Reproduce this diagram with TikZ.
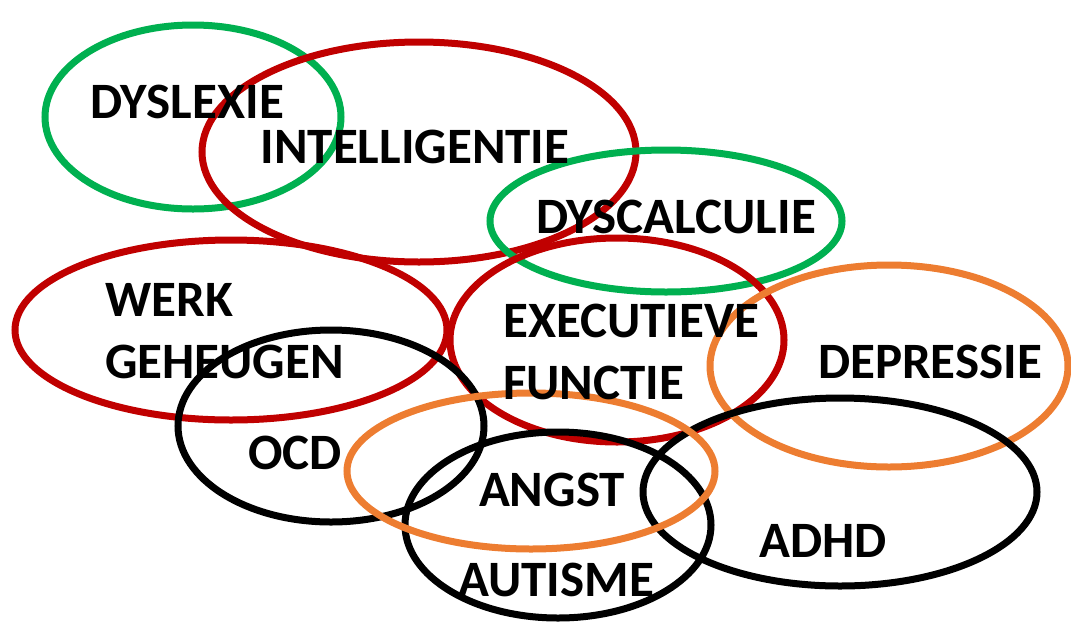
\documentclass[tikz,border=0pt]{standalone}
\usepackage{fontspec}
\setmainfont{Carlito}
\definecolor{ringgreen}{RGB}{0,176,80}
\definecolor{ringred}{RGB}{192,0,0}
\definecolor{ringorange}{RGB}{237,125,49}

\begin{document}
\begin{tikzpicture}[x=1pt, y=-1pt, every node/.style={font=\bfseries\fontsize{51}{62}\selectfont, inner sep=0pt}, ring/.style={line width=7pt}]
	\useasboundingbox (0,0) rectangle (1071,630);
	% rings
	\draw[ring, ringgreen] (193,117) ellipse [x radius=148, y radius=92];
	\draw[ring, ringred] (419,152) ellipse [x radius=217, y radius=110];
	\draw[ring, ringgreen] (666,221) ellipse [x radius=176, y radius=71];
	\draw[ring, ringred] (231,330) ellipse [x radius=216, y radius=90];
	\draw[ring, ringred] (617,340) ellipse [x radius=167, y radius=102];
	\draw[ring, ringorange] (889,366) ellipse [x radius=179, y radius=101];
	\draw[ring, black] (331,426) ellipse [x radius=153, y radius=96];
	\draw[ring, black] (558,525) ellipse [x radius=153, y radius=93];
	\draw[ring, black] (840,492) ellipse [x radius=197, y radius=94];
	\draw[ring, ringorange] (531,471) ellipse [x radius=184, y radius=78];
	% labels
	\node (dyslexie) at (187,102) {DYSLEXIE};
	\node (intelligentie) at (415,147) {INTELLIGENTIE};
	\node (dyscalculie) at (676,217) {DYSCALCULIE};
	\node[align=left, anchor=west] (werk) at (105,331) {WERK\\GEHEUGEN};
	\node[align=left, anchor=west] (executief) at (503,352) {EXECUTIEVE\\FUNCTIE};
	\node (depressie) at (930,362) {DEPRESSIE};
	\node (ocd) at (295,453) {OCD};
	\node (angst) at (552,490) {ANGST};
	\node (autisme) at (556,580) {AUTISME};
	\node (adhd) at (823,541) {ADHD};
\end{tikzpicture}
\end{document}
